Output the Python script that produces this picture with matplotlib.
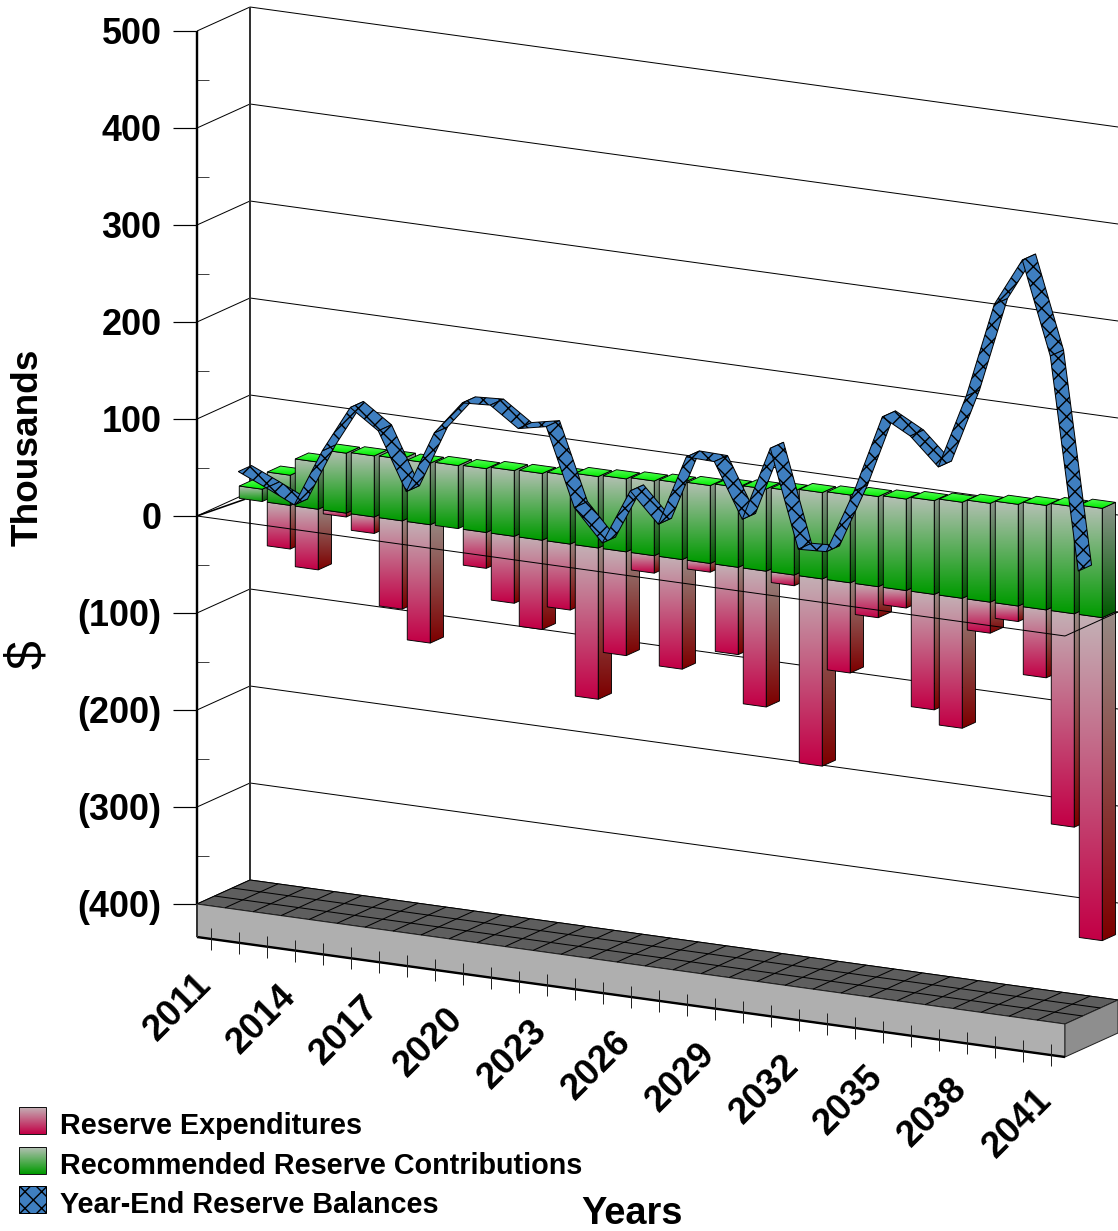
import matplotlib
matplotlib.use('Agg')
import numpy as np
from matplotlib import pyplot as plt
from matplotlib.patches import Polygon

# reserve study figures, thousands of dollars
years = list(range(2011, 2042))
expenditures = [0, 45, 62.5, 4, 17, 91, 122, 0, 37, 69, 92, 68, 156, 107, 18, 113,
                9, 90, 140, 11, 193, 93, 32, 18, 119, 134, 32, 16, 70, 220, 333]
contributions = [12.7, 31.1, 48.6, 61.8, 63, 63.6, 63.4, 65, 65.8, 67.8, 68.8, 70.7, 73.6, 75.2, 77, 78.7,
                 80.3, 82.5, 84.7, 86.4, 89, 90.5, 92.9, 94.3, 96.7, 99, 101.9, 104.8, 107.7, 110.4, 112.7]
balances = [27.5, 14.7, 1.1, 60.8, 109.5, 89.4, 30.8, 95.3, 130.2, 131.9, 111.7, 117.7, 38.2, 5.8, 63.4, 33.1,
            106.4, 105.6, 50.1, 127.3, 27.2, 28.7, 95.3, 175.6, 159.9, 132, 209.2, 307.6, 357.3, 262.3, 44.6]
y_ticks = [500, 400, 300, 200, 100, 0, -100, -200, -300, -400]
y_labels = ['500', '400', '300', '200', '100', '0', '(100)', '(200)', '(300)', '(400)']
legend_names = ['Reserve Expenditures', 'Recommended Reserve Contributions', 'Year-End Reserve Balances']

DPI = 100
W, H = 1118, 1231
plt.rcParams['font.family'] = ['Liberation Sans', 'DejaVu Sans']
plt.rcParams['hatch.linewidth'] = 1.0

RED = ((196, 176, 181), (194, 0, 70))
RED_SIDE = ((152, 138, 133), (125, 0, 0))
GREEN = ((180, 192, 180), (0, 155, 0))
GREEN_SIDE = ((140, 150, 140), (0, 90, 0))
GREEN_TOP = ((90, 255, 90), (0, 235, 0))
BLUE = '#3f7fc0'


def px(size):
    # sizes are thought of in pixels, matplotlib wants points
    return size * 72 / DPI


def proj(c, z, v):
    # category c (0..31), depth z (0 front, 1 back), value v in thousands
    x = 197 + 28 * c + 53 * z
    y = 516 + 3.871 * c - 24 * z - 0.97 * v
    return x, y


def line3(ax, a, b, color='black', lw=1.0, zorder=1):
    ax.plot([a[0], b[0]], [a[1], b[1]], color=color, lw=px(lw), zorder=zorder, solid_capstyle='butt')


def face(ax, pts, colors, zorder):
    # polygon with a vertical gradient, black outline on top
    pts = np.array(pts)
    x0, y0 = pts.min(axis=0)
    x1, y1 = pts.max(axis=0)
    grad = np.linspace(0, 1, 48)[:, None, None]
    rgb = (np.array(colors[0]) * (1 - grad) + np.array(colors[1]) * grad) / 255
    im = ax.imshow(rgb, extent=(x0, x1, y1, y0), aspect='auto', interpolation='bilinear', zorder=zorder)
    im.set_clip_path(Polygon(pts, closed=True, transform=ax.transData))
    ax.add_patch(Polygon(pts, closed=True, fill=False, ec='black', lw=px(0.9), zorder=zorder + 0.01))


def box(ax, c, v, colors, side_colors, zorder):
    c0, c1 = c + 0.09, c + 0.91
    z0, z1 = 0.75, 1.0
    face(ax, [proj(c1, z0, 0), proj(c1, z1, 0), proj(c1, z1, v), proj(c1, z0, v)], side_colors, zorder)
    face(ax, [proj(c0, z0, 0), proj(c1, z0, 0), proj(c1, z0, v), proj(c0, z0, v)], colors, zorder + 0.1)
    if v > 0:
        face(ax, [proj(c0, z0, v), proj(c1, z0, v), proj(c1, z1, v), proj(c0, z1, v)], GREEN_TOP, zorder + 0.2)


fig = plt.figure(figsize=(W / DPI, H / DPI), dpi=DPI)
ax = fig.add_axes([0, 0, 1, 1])
ax.set_xlim(0, W)
ax.set_ylim(H, 0)
ax.autoscale(False)
ax.axis('off')

# walls
for v in y_ticks:
    line3(ax, proj(0, 0, v), proj(0, 1, v))
    line3(ax, proj(0, 1, v), proj(31, 1, v))
    line3(ax, (173, proj(0, 0, v)[1]), proj(0, 0, v), lw=1.2)
for v in y_ticks[:-1]:
    a = proj(0, 0, v - 50)
    line3(ax, a, (a[0] + 12, a[1]), color='#444444', lw=1.0)
line3(ax, proj(0, 0, 500), proj(0, 0, -400), lw=2.4, zorder=2)
line3(ax, proj(0, 1, 500), proj(0, 1, -400), color='#333333', lw=2.0, zorder=2)

# floor slab
FLOOR = 33
f0, f1, f2, f3 = proj(0, 0, -400), proj(31, 0, -400), proj(31, 1, -400), proj(0, 1, -400)
ax.add_patch(Polygon([f0, f1, f2, f3], closed=True, fc='#5e5e5e', ec='black', lw=px(1), zorder=3))
ax.add_patch(Polygon([f0, f1, (f1[0], f1[1] + FLOOR), (f0[0], f0[1] + FLOOR)], closed=True,
                     fc='#afafaf', ec='#222222', lw=px(1), zorder=3))
ax.add_patch(Polygon([f1, f2, (f2[0], f2[1] + FLOOR), (f1[0], f1[1] + FLOOR)], closed=True,
                     fc='#8e8e8e', ec='#222222', lw=px(1), zorder=3))
for c in range(1, 31):
    line3(ax, proj(c, 0, -400), proj(c, 1, -400), zorder=3.1)
for z in (1 / 3, 2 / 3):
    line3(ax, proj(0, z, -400), proj(31, z, -400), zorder=3.1)
line3(ax, (f0[0], f0[1] + FLOOR), (f1[0], f1[1] + FLOOR), lw=2.4, zorder=3.2)
line3(ax, f0, (f0[0], f0[1] + FLOOR), color='#333333', lw=2.0, zorder=3.2)

# x ticks hang off the front of the slab
for i, year in enumerate(years):
    x, y = proj(i + 0.5, 0, -400)
    y += FLOOR
    line3(ax, (x, y - 11), (x, y + 11), color='#222222', lw=1.0, zorder=3.3)
    if i % 3 == 0:
        ax.text(x - 5, y + 40, str(year), rotation=45, rotation_mode='anchor', ha='right', va='center',
                fontsize=px(36.5), fontweight='bold', zorder=9)

# bars, left to right so each one hides the side of the previous
for i in range(len(years)):
    z = 4 + i
    if expenditures[i] > 0:
        box(ax, i, -expenditures[i], RED, RED_SIDE, z)
    box(ax, i, contributions[i], GREEN, GREEN_SIDE, z + 0.5)

# zero plane outline runs in front of the bars
line3(ax, proj(0, 0, 0), proj(31, 0, 0), zorder=40)
line3(ax, proj(31, 0, 0), proj(31, 1, 0), zorder=40)
line3(ax, proj(0, 0, 0), proj(0.3, 0.75, 0), lw=1.6, zorder=2.5)

# balance ribbon
for i in range(len(years) - 1):
    a0 = proj(i + 0.055, 0.75, balances[i])
    a1 = proj(i + 0.055, 1.0, balances[i])
    b0 = proj(i + 1.055, 0.75, balances[i + 1])
    b1 = proj(i + 1.055, 1.0, balances[i + 1])
    ax.add_patch(Polygon([a0, b0, b1, a1], closed=True, fc=BLUE, ec='black', hatch='xx',
                         lw=px(1.0), zorder=50 + i * 0.01))

# axis text
for v, lab in zip(y_ticks, y_labels):
    ax.text(161.5, proj(0, 0, v)[1] - 0.5, lab, ha='right', va='center_baseline',
            fontsize=px(36), fontweight='bold', zorder=60)
ax.text(28.5, 447.5, 'Thousands', rotation=90, ha='center', va='center', fontsize=px(37),
        fontweight='bold', zorder=60)
ax.text(29, 655, '$', rotation=90, ha='center', va='center', fontsize=px(52), zorder=60)
ax.text(632, 1214, 'Years', ha='center', va='center', fontsize=px(38), fontweight='bold', zorder=60)

# legend
swatches = [(19, 1107), (19, 1147), (19, 1186)]
for (x, y), name, cols in zip(swatches, legend_names, [RED, GREEN, None]):
    rect = [(x, y), (x + 27, y), (x + 27, y + 27), (x, y + 27)]
    if cols is None:
        ax.add_patch(Polygon(rect, closed=True, fc=BLUE, ec='black', hatch='xx', lw=px(1.0), zorder=60))
    else:
        face(ax, rect, cols, 60)
    ax.text(60, y + 19, name, ha='left', va='center', fontsize=px(28.8), fontweight='bold', zorder=60)

fig.savefig('out.png', dpi=DPI)
